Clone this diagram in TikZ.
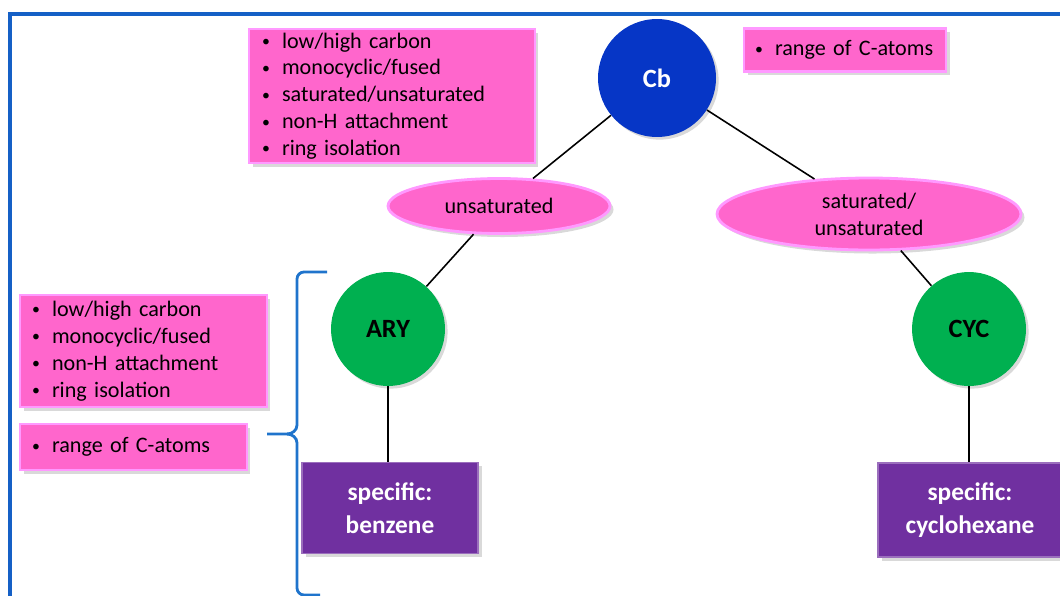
\documentclass[tikz,border=0pt]{standalone}
\usepackage{fontspec}
\setmainfont{Carlito}
\usepackage{tikz}
\usetikzlibrary{positioning, shapes.geometric, shadows}

\definecolor{pinkfill}{HTML}{FF66CC}
\definecolor{pinkline}{HTML}{FF99FF}
\definecolor{cbblue}{HTML}{0636C6}
\definecolor{rygreen}{HTML}{00B050}
\definecolor{specpurple}{HTML}{7030A0}
\definecolor{framblue}{HTML}{1560C6}
\definecolor{braceblue}{HTML}{1F74CC}

\newcommand{\bul}{\makebox[0.4cm][l]{\raisebox{0.15ex}{\small\textbullet}}}

\tikzset{
    listbox/.style={draw=pinkline, line width=1.6pt, fill=pinkfill, rectangle,
        inner ysep=0pt, align=left, font=\fontsize{12.6}{15.3}\selectfont,
        drop shadow={opacity=0.3, shadow xshift=2pt, shadow yshift=-2pt}},
    hubnode/.style={circle, minimum size=2.36cm, inner sep=0pt,
        font=\fontsize{15}{16}\selectfont\bfseries,
        drop shadow={opacity=0.3, shadow xshift=1.5pt, shadow yshift=-1.5pt}},
    kindnode/.style={ellipse, draw=pinkline, line width=1.6pt, fill=pinkfill,
        inner sep=0pt, align=center, font=\fontsize{12.6}{15.3}\selectfont,
        drop shadow={opacity=0.3, shadow xshift=2pt, shadow yshift=-2pt}},
    specbox/.style={rectangle, fill=specpurple, draw=specpurple!70!white, line width=1pt,
        text=white, align=center, font=\fontsize{14.4}{18.7}\selectfont\bfseries,
        drop shadow={opacity=0.3, shadow xshift=2pt, shadow yshift=-2pt}},
    link/.style={draw=black, line width=0.9pt}
}

\begin{document}
\begin{tikzpicture}[x=0.02cm, y=-0.02cm]
    \useasboundingbox (0,0) rectangle (1060,595);
    \begin{scope}
    \clip (0,0) rectangle (1060,595);

    % frame
    \draw[framblue, line width=1.8pt] (10,600) -- (10,14) -- (1070,14);

    % hubs
    \node[hubnode, fill=cbblue, text=white] (cb) at (657,78) {Cb};
    \node[hubnode, fill=rygreen, minimum size=2.28cm] (ary) at (388,329) {ARY};
    \node[hubnode, fill=rygreen, minimum size=2.28cm] (cyc) at (969,329) {CYC};

    % kinds
    \node[kindnode, minimum width=4.44cm, minimum height=1.1cm] (unsat) at (499,206) {unsaturated};
    \node[kindnode, minimum width=6.08cm, minimum height=1.44cm] (satunsat) at (869,214) {saturated/\\unsaturated};

    % specific compounds
    \node[specbox, minimum width=3.52cm, minimum height=1.82cm] (benz) at (390,508) {specific:\\benzene};
    \node[specbox, minimum width=3.68cm, minimum height=1.88cm] (chex) at (970,510) {specific:\\cyclohexane};

    % descriptor lists
    \node[listbox, inner xsep=0.26cm, text width=5.2cm, minimum height=2.68cm] (cblist) at (392,96)
        {\bul low/high carbon\\ \bul monocyclic/fused\\ \bul saturated/unsaturated\\ \bul non-H attachment\\ \bul ring isolation};
    \node[listbox, inner xsep=0.22cm, text width=3.6cm, minimum height=0.86cm] (cbrange) at (845,50)
        {\bul range of C-atoms};
    \node[listbox, inner xsep=0.24cm, text width=4.46cm, minimum height=2.24cm] (rylist) at (143.5,351)
        {\bul low/high carbon\\ \bul monocyclic/fused\\ \bul non-H attachment\\ \bul ring isolation};
    \node[listbox, inner xsep=0.24cm, text width=4.06cm, minimum height=0.92cm] (ryrange) at (133.5,447)
        {\bul range of C-atoms};

    % links
    \draw[link] (cb) -- (unsat);
    \draw[link] (cb) -- (satunsat);
    \draw[link] (unsat) -- (ary);
    \draw[link] (satunsat) -- (cyc);
    \draw[link] (ary) -- (ary |- benz.north);
    \draw[link] (cyc) -- (cyc |- chex.north);

    % brace
    \draw[braceblue, line width=1.6pt] (327,272) -- (304,272) to[out=180, in=90] (297,279)
        -- (297,425) to[out=-90, in=0] (287,434) -- (267,434);
    \draw[braceblue, line width=1.6pt] (287,434) to[out=0, in=90] (297,443) -- (297,588)
        to[out=-90, in=180] (304,595) -- (320,595);
    \end{scope}
\end{tikzpicture}
\end{document}
